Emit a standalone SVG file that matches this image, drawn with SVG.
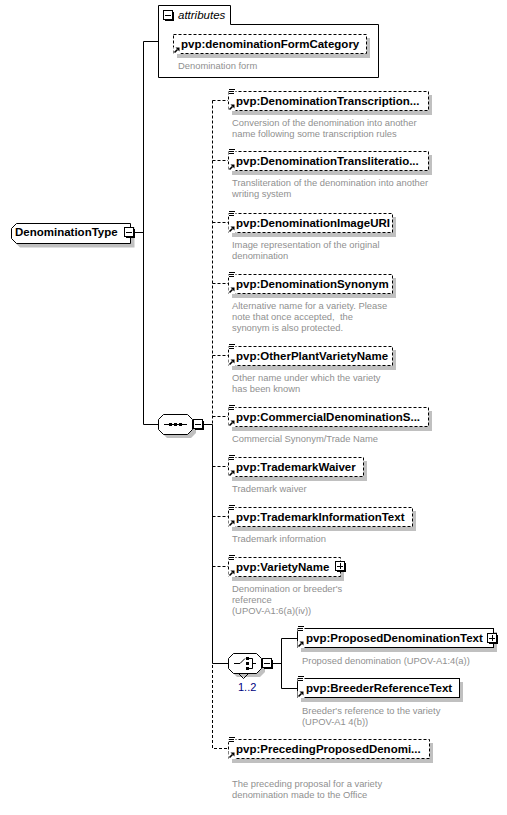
<svg xmlns="http://www.w3.org/2000/svg" width="507" height="815" viewBox="0 0 507 815">
<defs>
<style>
.t{font-family:"Liberation Sans",Arial,sans-serif;font-weight:bold;font-size:11.5px;fill:#000}
.d{font-family:"Liberation Sans",Arial,sans-serif;font-size:9.4px;fill:#909090;white-space:pre}
.a{font-family:"Liberation Sans",Arial,sans-serif;font-style:italic;font-size:11.5px;fill:#000}
.m{font-family:"Liberation Sans",Arial,sans-serif;font-size:11px;fill:#000080}
.bx{fill:#fff;stroke:#000;stroke-width:1}
.dsh{stroke-dasharray:3,2}
.sh{fill:#c0c0c0}
.ln{fill:none;stroke:#000;stroke-width:1}
.ld{fill:none;stroke:#000;stroke-width:1;stroke-dasharray:3,2}
</style>
<g id="lines3"><rect x="0.5" y="-3" width="7" height="6.5" fill="#fff"/><path d="M1,-1.5h6M1,0.5h5M1,2.5h5" stroke="#000" stroke-width="1"/></g>
<g id="arr"><rect x="0.5" y="13" width="7" height="7" fill="#fff"/><path d="M1.5,18.5L4.5,15.5" stroke="#000" stroke-width="1.6"/><polygon points="2.5,13.5 6.5,13.5 6.5,17.5" fill="#000"/></g>
<g id="minus"><rect x="2" y="2" width="9" height="9" fill="#000"/><rect x="0.5" y="0.5" width="9" height="9" fill="#fff" stroke="#000"/><path d="M2,5.5h6" stroke="#000"/></g>
<g id="plus"><rect x="2" y="2" width="9" height="9" fill="#000"/><rect x="0.5" y="0.5" width="9" height="9" fill="#fff" stroke="#000"/><path d="M2,5.5h6M5.5,2v6" stroke="#000"/></g>
</defs>
<rect width="507" height="815" fill="#fff"/>

<g id="connectors">
<path class="ln" d="M134,232.5H143.5M143.5,41.5V424.5M143.5,41.5H158M143.5,424.5H158"/>
<path class="ln" d="M203,424.5H212.5V663.5M212.5,663.5H228M272,663.5H281.5M281.5,638.5V688.5M281.5,638.5H297M281.5,688.5H297"/>
<path class="ld" d="M212.5,100.5V424M212.5,665V748.5H228M212.5,100.5H228M212.5,160.5H228M212.5,222.5H228M212.5,283.5H228M212.5,355.5H228M212.5,416.5H228M212.5,466.5H228M212.5,516.5H228M212.5,566.5H228"/>
</g>

<g id="DenominationType">
<path class="sh" d="M20,227H134.5V247.5H20L15,242.5V232Z"/>
<path class="bx" d="M16.5,223.5H130.5V243.5H16.5L11.5,238.5V228.5Z"/>
<text class="t" x="15" y="236">DenominationType</text>
<use href="#minus" x="124" y="227"/>
</g>

<g id="attributes">
<path class="bx" d="M158.5,77.5V5.5H230.5V24.5H378.5V77.5Z"/>
<use href="#minus" x="163" y="10"/>
<text class="a" x="178" y="19">attributes</text>
</g>

<g id="denominationFormCategory">
<rect class="sh" x="177" y="38" width="193" height="20"/>
<rect class="bx dsh" x="173.5" y="34.5" width="193" height="19"/>
<use href="#arr" x="173" y="34"/>
<text class="t" x="181" y="48">pvp:denominationFormCategory</text>
<text class="d" x="178" y="69">Denomination form</text>
</g>

<g id="sequence">
<path class="sh" d="M167,418H191L196,423V433L191,438H167L162,433V423Z"/>
<path class="bx" d="M163.5,414.5H187.5L192.5,419.5V429.5L187.5,434.5H163.5L158.5,429.5V419.5Z"/>
<path d="M164,424.5H187" stroke="#000"/>
<rect x="169" y="423" width="3" height="3" fill="#000"/>
<rect x="174" y="423" width="3" height="3" fill="#000"/>
<rect x="179" y="423" width="3" height="3" fill="#000"/>
<use href="#minus" x="193" y="419"/>
</g>

<g id="DenominationTranscription">
<rect class="sh" x="232" y="95" width="200" height="20"/>
<rect class="bx dsh" x="228.5" y="91.5" width="200" height="19"/>
<use href="#lines3" x="228" y="91"/><use href="#arr" x="228" y="91"/>
<text class="t" x="236" y="105">pvp:DenominationTranscription...</text>
<text class="d"><tspan x="232" y="126">Conversion of the denomination into another</tspan><tspan x="232" y="137">name following some transcription rules</tspan></text>
</g>

<g id="DenominationTransliteration">
<rect class="sh" x="232" y="155" width="200" height="20"/>
<rect class="bx dsh" x="228.5" y="151.5" width="200" height="19"/>
<use href="#lines3" x="228" y="151"/><use href="#arr" x="228" y="151"/>
<text class="t" x="236" y="165">pvp:DenominationTransliteratio...</text>
<text class="d"><tspan x="232" y="186">Transliteration of the denomination into another</tspan><tspan x="232" y="197">writing system</tspan></text>
</g>

<g id="DenominationImageURI">
<rect class="sh" x="232" y="217" width="164" height="20"/>
<rect class="bx dsh" x="228.5" y="213.5" width="164" height="19"/>
<use href="#lines3" x="228" y="213"/><use href="#arr" x="228" y="213"/>
<text class="t" x="236" y="227">pvp:DenominationImageURI</text>
<text class="d"><tspan x="232" y="248">Image representation of the original</tspan><tspan x="232" y="259">denomination</tspan></text>
</g>

<g id="DenominationSynonym">
<rect class="sh" x="232" y="278" width="164" height="20"/>
<rect class="bx dsh" x="228.5" y="274.5" width="164" height="19"/>
<use href="#lines3" x="228" y="274"/><use href="#arr" x="228" y="274"/>
<text class="t" x="236" y="288">pvp:DenominationSynonym</text>
<text class="d"><tspan x="232" y="309">Alternative name for a variety. Please</tspan><tspan x="232" y="320">note that once accepted,  the</tspan><tspan x="232" y="331">synonym is also protected.</tspan></text>
</g>

<g id="OtherPlantVarietyName">
<rect class="sh" x="232" y="350" width="164" height="20"/>
<rect class="bx dsh" x="228.5" y="346.5" width="164" height="19"/>
<use href="#lines3" x="228" y="346"/><use href="#arr" x="228" y="346"/>
<text class="t" x="236" y="360">pvp:OtherPlantVarietyName</text>
<text class="d"><tspan x="232" y="381">Other name under which the variety</tspan><tspan x="232" y="392">has been known</tspan></text>
</g>

<g id="CommercialDenominationSynonym">
<rect class="sh" x="232" y="411" width="200" height="20"/>
<rect class="bx dsh" x="228.5" y="407.5" width="200" height="19"/>
<use href="#lines3" x="228" y="407"/><use href="#arr" x="228" y="407"/>
<text class="t" x="236" y="421">pvp:CommercialDenominationS...</text>
<text class="d" x="232" y="442">Commercial Synonym/Trade Name</text>
</g>

<g id="TrademarkWaiver">
<rect class="sh" x="232" y="461" width="135" height="20"/>
<rect class="bx dsh" x="228.5" y="457.5" width="135" height="19"/>
<use href="#lines3" x="228" y="457"/><use href="#arr" x="228" y="457"/>
<text class="t" x="236" y="471">pvp:TrademarkWaiver</text>
<text class="d" x="232" y="492">Trademark waiver</text>
</g>

<g id="TrademarkInformationText">
<rect class="sh" x="232" y="511" width="184" height="20"/>
<rect class="bx dsh" x="228.5" y="507.5" width="184" height="19"/>
<use href="#lines3" x="228" y="507"/><use href="#arr" x="228" y="507"/>
<text class="t" x="236" y="521">pvp:TrademarkInformationText</text>
<text class="d" x="232" y="542">Trademark information</text>
</g>

<g id="VarietyName">
<rect class="sh" x="232" y="561" width="112" height="20"/>
<rect class="bx dsh" x="228.5" y="557.5" width="112" height="19"/>
<use href="#lines3" x="228" y="557"/><use href="#arr" x="228" y="557"/>
<text class="t" x="236" y="571">pvp:VarietyName</text>
<use href="#plus" x="335" y="561"/>
<text class="d"><tspan x="232" y="592">Denomination or breeder's</tspan><tspan x="232" y="603">reference</tspan><tspan x="232" y="614">(UPOV-A1:6(a)(iv))</tspan></text>
</g>

<g id="choice">
<path class="sh" d="M237,657H260L265,662V672L260,677H237L232,672V662Z"/>
<path d="M233.5,668.5L238.5,673.5L243.5,678.5L248.5,673.5L256.5,673.5" fill="none" stroke="#000"/>
<path class="bx" d="M233.5,653.5H256.5L261.5,658.5V668.5L256.5,673.5H233.5L228.5,668.5V658.5Z"/>
<path d="M234,663.5H240L245,658.5" fill="none" stroke="#000"/>
<rect x="246" y="657" width="3" height="3" fill="#000"/>
<rect x="246" y="662" width="3" height="3" fill="#000"/>
<rect x="246" y="667" width="3" height="3" fill="#000"/>
<path d="M249,658.5H252.5V668.5H249M252.5,663.5H256" fill="none" stroke="#000"/>
<use href="#minus" x="262" y="658"/>
<text class="m" x="238" y="691">1..2</text>
</g>

<g id="ProposedDenominationText">
<rect class="sh" x="301" y="632" width="196" height="20"/>
<rect class="bx" x="297.5" y="628.5" width="196" height="19"/>
<use href="#lines3" x="297" y="628"/><use href="#arr" x="297" y="628"/>
<text class="t" x="306" y="642">pvp:ProposedDenominationText</text>
<use href="#plus" x="487" y="633"/>
<text class="d" x="302" y="664">Proposed denomination (UPOV-A1:4(a))</text>
</g>

<g id="BreederReferenceText">
<rect class="sh" x="301" y="682" width="162" height="20"/>
<rect class="bx" x="297.5" y="678.5" width="162" height="19"/>
<use href="#lines3" x="297" y="678"/><use href="#arr" x="297" y="678"/>
<text class="t" x="306" y="692">pvp:BreederReferenceText</text>
<text class="d"><tspan x="302" y="714">Breeder's reference to the variety</tspan><tspan x="302" y="725">(UPOV-A1 4(b))</tspan></text>
</g>

<g id="PrecedingProposedDenomination">
<rect class="sh" x="232" y="743" width="201" height="20"/>
<rect class="bx dsh" x="228.5" y="739.5" width="201" height="19"/>
<use href="#lines3" x="228" y="739"/><use href="#arr" x="228" y="739"/>
<text class="t" x="236" y="753">pvp:PrecedingProposedDenomi...</text>
<text class="d"><tspan x="232" y="787">The preceding proposal for a variety</tspan><tspan x="232" y="798">denomination made to the Office</tspan></text>
</g>
</svg>
